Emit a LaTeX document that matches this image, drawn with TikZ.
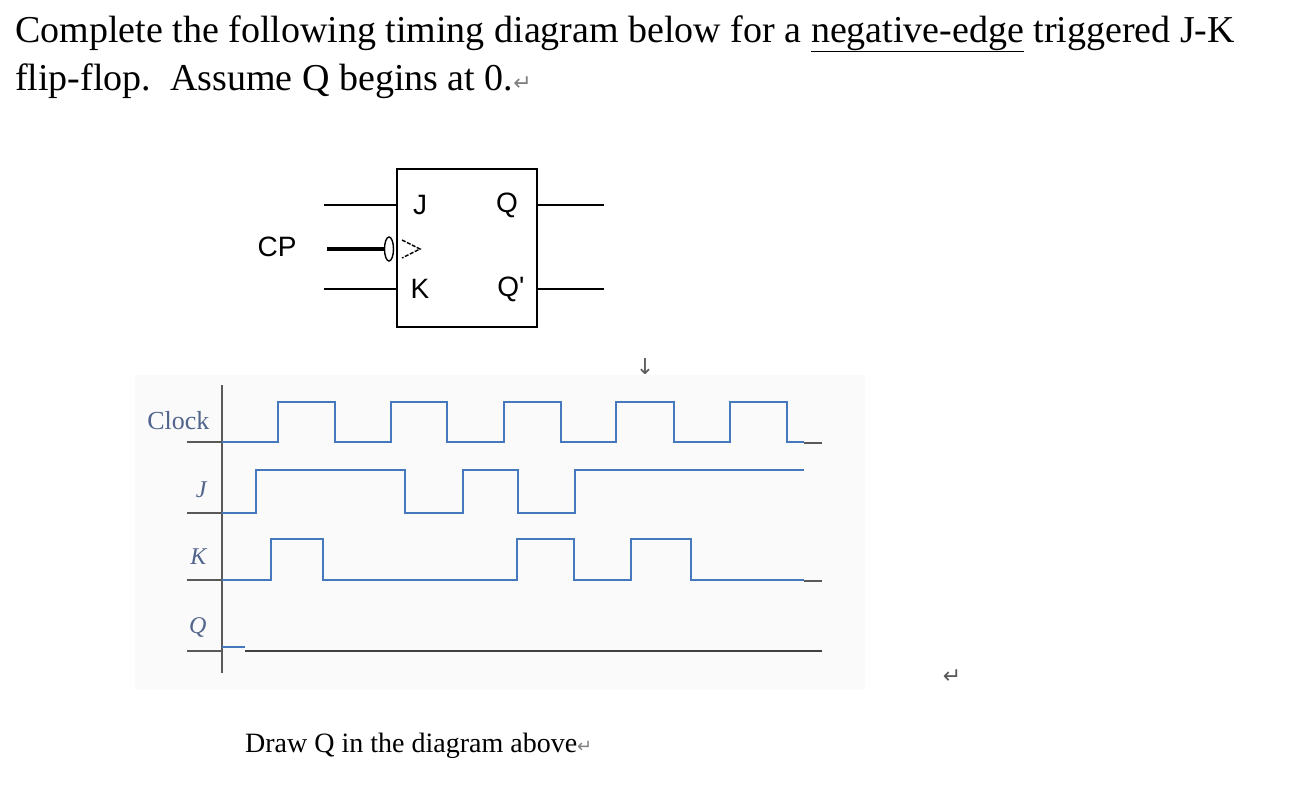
\documentclass[tikz,border=0pt]{standalone}
\usetikzlibrary{shapes.geometric}
\usepackage{fontspec}
\setmainfont{Liberation Serif}
\setsansfont{Liberation Sans}
\newfontfamily\dv{DejaVu Sans}
\definecolor{sigc}{RGB}{70,120,190}
\definecolor{labc}{RGB}{80,100,140}
\begin{document}
\begin{tikzpicture}[x=1pt,y=-1pt,
  sig/.style={draw=sigc, line width=2.4pt},
  blk/.style={draw=black!65, line width=1.3pt},
  lab/.style={text=labc, font=\fontsize{26}{26}\selectfont, anchor=east},
  ilab/.style={lab, font=\itshape\fontsize{24}{24}\selectfont},
  ff/.style={font=\sffamily\fontsize{28}{28}\selectfont}]
\useasboundingbox (0,0) rectangle (1292,790);
\fill[black!2] (135,375) rectangle (865,690);
% title
\node[anchor=base west, inner sep=0, font=\fontsize{38}{38}\selectfont] (t1) at (15,42) {Complete the following timing diagram below for a \underline{negative-edge} triggered J-K};
\node[anchor=base west, inner sep=0, font=\fontsize{38}{38}\selectfont] (t2) at (15,90) {flip-flop.\ \ Assume Q begins at 0.{\dv\fontsize{22}{22}\selectfont\color{gray}↵}};
% flip-flop
\node[draw, line width=1.4pt, minimum width=140pt, minimum height=158pt, inner sep=0] (ffb) at (467,248) {};
\coordinate (jin) at (324,205); \coordinate (kin) at (324,289);
\coordinate (qo) at (604,205); \coordinate (qbo) at (604,289);
\draw[line width=1.4pt] (jin) -- (ffb.west |- jin);
\draw[line width=1.4pt] (kin) -- (ffb.west |- kin);
\draw[line width=1.4pt] (ffb.east |- qo) -- (qo);
\draw[line width=1.4pt] (ffb.east |- qbo) -- (qbo);
\node[draw, line width=1.4pt, ellipse, minimum width=9pt, minimum height=24pt, inner sep=0] (bub) at (389,249) {};
\coordinate (cpin) at (327,249);
\draw[line width=3.5pt] (cpin) -- (bub.west);
\draw[line width=1.4pt, dash pattern=on 4pt off 1.5pt] (402,240) -- (420,249) -- (402,258);
\node[ff] (jl) at (420,205) {J};
\node[ff] (ql) at (507,205) {Q};
\node[ff] (kl) at (420,289) {K};
\node[ff] (qbl) at (511,289) {Q\textquotesingle};
\node[ff] (cpl) at (277,247) {CP};
% arrows
\node[font=\dv\fontsize{22}{22}\selectfont, text=gray!70!black] (da) at (645,367) {↓};
\node[font=\dv\fontsize{22}{22}\selectfont, text=gray!70!black] (ra) at (952,677) {↵};
% timing
\draw[blk] (222,385) -- (222,673);
\node[lab] (lc) at (213,421) {Clock};
\node[ilab] (lj) at (210,490) {J};
\node[ilab] (lk) at (210,557) {K};
\node[ilab] (lq) at (210,627) {Q};
\draw[blk] (187,442) -- (222,442);
\draw[blk] (187,513) -- (222,513);
\draw[blk] (187,580) -- (222,580);
\draw[blk] (187,651) -- (222,651);
\draw[sig] (222,442) -- (278,442) -- (278,402) -- (335,402) -- (335,442) -- (391,442) -- (391,402) -- (447,402) -- (447,442) -- (504,442) -- (504,402) -- (561,402) -- (561,442) -- (616,442) -- (616,402) -- (674,402) -- (674,442) -- (730,442) -- (730,402) -- (787,402) -- (787,442) -- (804,442);
\draw[blk] (804,443) -- (822,443);
\draw[sig] (222,513) -- (256,513) -- (256,470) -- (405,470) -- (405,513) -- (463,513) -- (463,470) -- (518,470) -- (518,513) -- (575,513) -- (575,470) -- (804,470);
\draw[sig] (222,580) -- (271,580) -- (271,539) -- (323,539) -- (323,580) -- (517,580) -- (517,539) -- (574,539) -- (574,580) -- (631,580) -- (631,539) -- (691,539) -- (691,580) -- (804,580);
\draw[blk] (804,581) -- (822,581);
\draw[sig] (222,647) -- (245,647);
\draw[blk, draw=black!75] (245,651) -- (822,651);
% footer
\node[anchor=base west, inner sep=0, font=\fontsize{28}{28}\selectfont] (ft) at (245,752) {Draw Q in the diagram above{\dv\fontsize{18}{18}\selectfont\color{gray}↵}};
\end{tikzpicture}
\end{document}
